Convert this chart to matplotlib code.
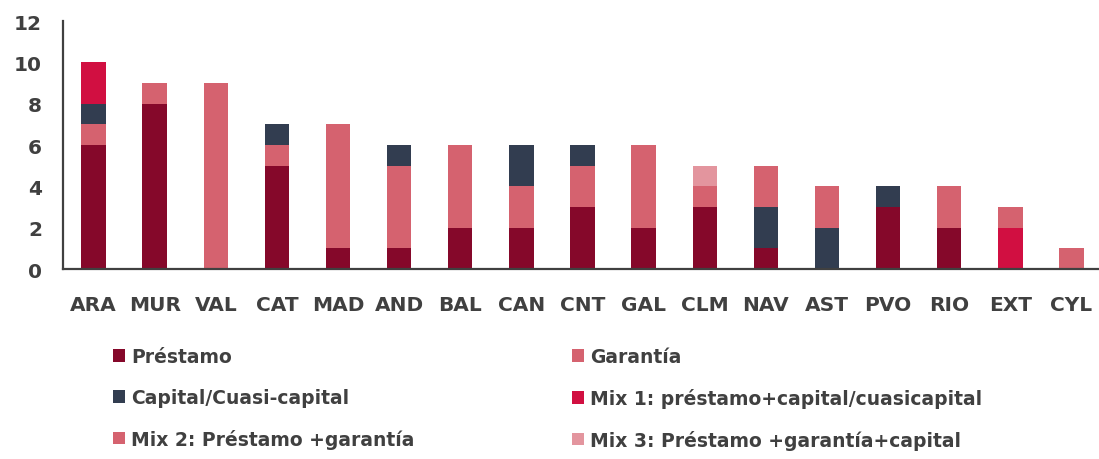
import matplotlib
matplotlib.use("Agg")
import matplotlib.pyplot as plt
import numpy as np
from matplotlib.patches import Patch

regions = ["ARA", "MUR", "VAL", "CAT", "MAD", "AND", "BAL", "CAN", "CNT",
           "GAL", "CLM", "NAV", "AST", "PVO", "RIO", "EXT", "CYL"]

prestamo = [6, 8, 0, 5, 1, 1, 2, 2, 3, 2, 3, 1, 0, 3, 2, 0, 0]
garantia = [1, 1, 9, 1, 6, 4, 4, 2, 2, 4, 1, 0, 0, 0, 2, 0, 1]
capital  = [1, 0, 0, 1, 0, 1, 0, 2, 1, 0, 0, 2, 2, 1, 0, 0, 0]
mix1     = [2, 0, 0, 0, 0, 0, 0, 0, 0, 0, 0, 0, 0, 0, 0, 2, 0]
mix2     = [0, 0, 0, 0, 0, 0, 0, 0, 0, 0, 0, 2, 2, 0, 0, 1, 0]
mix3     = [0, 0, 0, 0, 0, 0, 0, 0, 0, 0, 1, 0, 0, 0, 0, 0, 0]

series_labels = ["Préstamo", "Garantía", "Capital/Cuasi-capital",
                 "Mix 1: préstamo+capital/cuasicapital",
                 "Mix 2: Préstamo +garantía",
                 "Mix 3: Préstamo +garantía+capital"]
series_colors = ["#85082A", "#D5626F", "#323D50", "#D10F41", "#D5626F", "#E3959E"]

TEXT = "#404040"
plt.rcParams["font.family"] = ["DejaVu Sans"]
plt.rcParams["font.weight"] = "bold"

fig = plt.figure(figsize=(10.99, 4.6), dpi=100)
W, H = 1099, 460
ax = fig.add_axes([63 / W, (H - 270) / H, 1039 / W, 248 / H])

x = np.arange(len(regions))
bottom = np.zeros(len(regions))
handles = []
for vals, lab, col in zip([prestamo, garantia, capital, mix1, mix2, mix3],
                          series_labels, series_colors):
    v = np.array(vals, dtype=float)
    ax.bar(x, v, width=0.40, bottom=bottom, color=col, linewidth=0)
    bottom += v
    handles.append(Patch(facecolor=col, edgecolor="none", label=lab))

ax.set_xlim(-0.5, len(regions) - 0.5)
ax.set_ylim(0, 12)
ax.set_yticks(range(0, 13, 2))
ax.set_xticks(x)
ax.set_xticklabels(regions)
for s in ("top", "right"):
    ax.spines[s].set_visible(False)
for s in ("left", "bottom"):
    ax.spines[s].set_color(TEXT)
    ax.spines[s].set_linewidth(1.6)
ax.tick_params(axis="both", length=0, colors=TEXT)
ax.tick_params(axis="y", pad=15, labelsize=14.5)
ax.tick_params(axis="x", pad=19, labelsize=14.5)
for t in ax.get_xticklabels() + ax.get_yticklabels():
    t.set_fontweight("bold")

# two legend columns, rows read left to right
fs = 13.5
leg_kw = dict(loc="upper left", frameon=False,
              handlelength=0.64, handleheight=0.64, handletextpad=0.32,
              labelspacing=1.17, borderpad=0, borderaxespad=0,
              labelcolor=TEXT, prop={"weight": "bold", "size": fs})
leg1 = fig.legend(handles=[handles[0], handles[2], handles[4]],
                  bbox_to_anchor=(113 / W, (H - 348) / H), **leg_kw)
leg2 = fig.legend(handles=[handles[1], handles[3], handles[5]],
                  bbox_to_anchor=(572 / W, (H - 348) / H), **leg_kw)

fig.savefig("out.png", dpi=100)
